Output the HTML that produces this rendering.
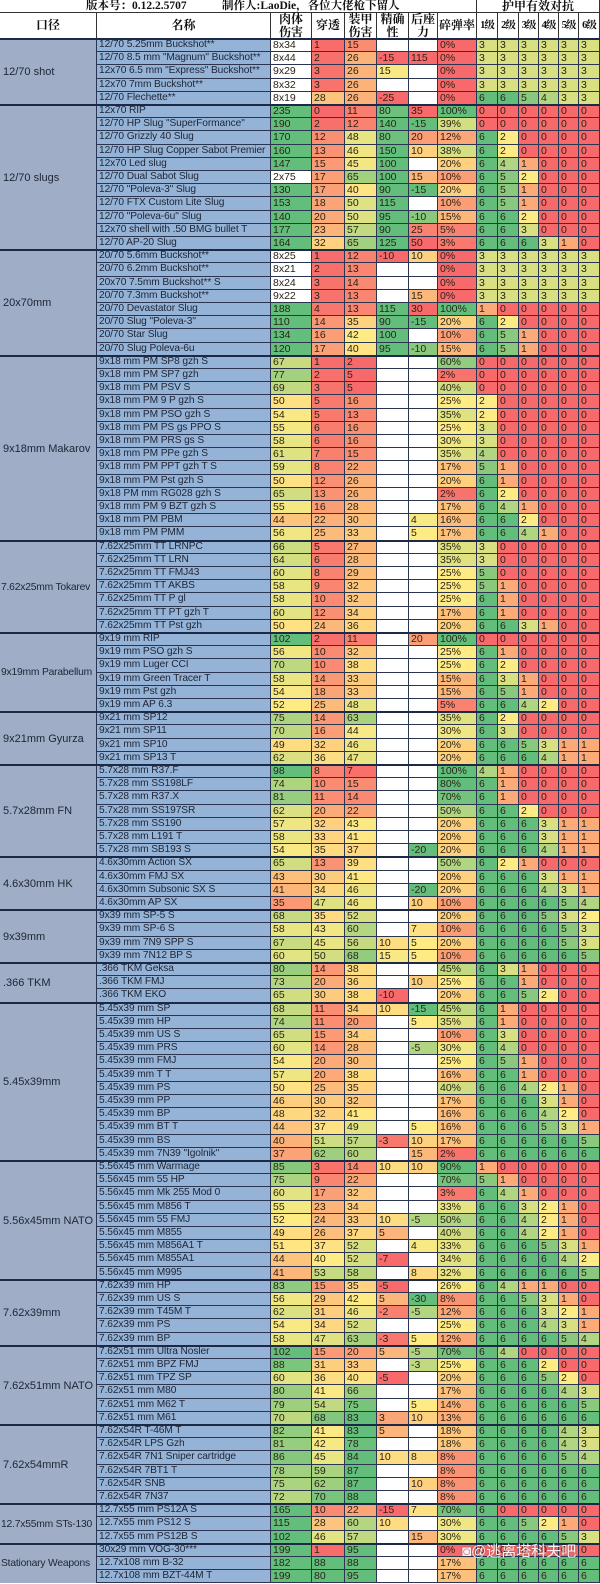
<!DOCTYPE html>
<html><head><meta charset="utf-8">
<style>
html,body{margin:0;padding:0;background:#fff;}
#t{position:relative;width:600px;height:1584px;overflow:hidden;font-family:"Liberation Sans","Noto Sans CJK SC",sans-serif;font-size:10.5px;color:#2a2418;}
.c{position:absolute;box-sizing:border-box;border-right:1px solid #2b3550;border-bottom:1px solid #2b3550;white-space:nowrap;overflow:hidden;line-height:12px;padding-left:2px;}
.h{position:absolute;box-sizing:border-box;border-right:1px solid #333;border-bottom:1px solid #333;font-family:"Liberation Serif","Noto Serif CJK SC",serif;font-weight:bold;font-size:12px;display:flex;align-items:center;justify-content:center;text-align:center;line-height:13px;background:#fff;color:#111;}
.g{position:absolute;box-sizing:border-box;background:#9fadc6;border-right:1px solid #2b3550;display:flex;align-items:center;padding-left:3px;font-size:11px;color:#1e2535;white-space:nowrap;overflow:hidden;}
.sep{position:absolute;left:0;width:600px;height:2px;background:#1c2a48;}
</style></head>
<body>
<div id="t">
  <div class="h" style="left:0;top:0;width:477px;height:13px;justify-content:flex-start;font-size:11.5px"><span style="position:absolute;left:86px">版本号：0.12.2.5707</span><span style="position:absolute;left:222px">制作人:LaoDie，各位大佬枪下留人</span></div>
  <div class="h" style="left:477px;top:0;width:123px;height:13px">护甲有效对抗</div>
</div>
<script>
const groups=["12/70 shot","12/70 slugs","20x70mm","9x18mm Makarov","7.62x25mm Tokarev","9x19mm Parabellum","9x21mm Gyurza","5.7x28mm FN","4.6x30mm HK","9x39mm",".366 TKM","5.45x39mm","5.56x45mm NATO","7.62x39mm","7.62x51mm NATO","7.62x54mmR","12.7x55mm STs-130","Stationary Weapons"];
const groupSizes=[5,11,8,14,7,6,4,7,4,4,3,12,9,5,6,6,3,3];
const headers=["口径","名称","肉体<br>伤害","穿透","装甲<br>伤害","精确<br>性","后座<br>力","碎弹率","1级","2级","3级","4级","5级","6级"];
const rows=[
["12/70 5.25mm Buckshot**","8x34",1,15,"","","0%",3,3,3,3,3,3],
["12/70 8.5 mm \"Magnum\" Buckshot**","8x44",2,26,-15,115,"0%",3,3,3,3,3,3],
["12x70 6.5 mm \"Express\" Buckshot**","9x29",3,26,15,"","0%",3,3,3,3,3,3],
["12x70 7mm Buckshot**","8x32",3,26,"","","0%",3,3,3,3,3,3],
["12/70 Flechette**","8x19",28,26,-25,"","0%",6,6,5,4,3,3],
["12x70 RIP",235,0,11,80,35,"100%",0,0,0,0,0,0],
["12/70 HP Slug \"SuperFormance\"",190,2,12,140,-15,"39%",0,0,0,0,0,0],
["12/70 Grizzly 40 Slug",170,12,48,80,20,"12%",6,2,0,0,0,0],
["12/70 HP Slug Copper Sabot Premier",160,13,46,150,10,"38%",6,2,0,0,0,0],
["12x70 Led slug",147,15,45,100,"","20%",6,4,1,0,0,0],
["12/70 Dual Sabot Slug","2x75",17,65,100,15,"10%",6,5,2,0,0,0],
["12/70 \"Poleva-3\" Slug",130,17,40,90,-15,"20%",6,5,1,0,0,0],
["12/70 FTX Custom Lite Slug",153,18,50,115,"","10%",6,5,1,0,0,0],
["12/70 \"Poleva-6u\" Slug",140,20,50,95,-10,"15%",6,6,2,0,0,0],
["12x70 shell with .50 BMG bullet T",177,23,57,90,25,"5%",6,6,3,0,0,0],
["12/70 AP-20 Slug",164,32,65,125,50,"3%",6,6,6,3,1,0],
["20/70 5.6mm Buckshot**","8x25",1,12,-10,10,"0%",3,3,3,3,3,3],
["20/70 6.2mm Buckshot**","8x21",2,13,"","","0%",3,3,3,3,3,3],
["20x70 7.5mm Buckshot** S","8x24",3,14,"","","0%",3,3,3,3,3,3],
["20/70 7.3mm Buckshot**","9x22",3,13,"",15,"0%",3,3,3,3,3,3],
["20/70 Devastator Slug",188,4,13,115,30,"100%",1,0,0,0,0,0],
["20/70 Slug \"Poleva-3\"",110,14,35,90,-15,"20%",6,2,0,0,0,0],
["20/70 Star Slug",134,16,42,100,"","10%",6,5,1,0,0,0],
["20/70 Slug Poleva-6u",120,17,40,95,-10,"15%",6,5,1,0,0,0],
["9x18 mm PM SP8 gzh S",67,1,2,"","","60%",0,0,0,0,0,0],
["9x18 mm PM SP7 gzh",77,2,5,"","","2%",0,0,0,0,0,0],
["9x18 mm PM PSV S",69,3,5,"","","40%",0,0,0,0,0,0],
["9x18 mm PM 9 P gzh S",50,5,16,"","","25%",2,0,0,0,0,0],
["9x18 mm PM PSO gzh S",54,5,13,"","","35%",2,0,0,0,0,0],
["9x18 mm PM PS gs PPO S",55,6,16,"","","25%",3,0,0,0,0,0],
["9x18 mm PM PRS gs S",58,6,16,"","","30%",3,0,0,0,0,0],
["9x18 mm PM PPe gzh S",61,7,15,"","","35%",4,0,0,0,0,0],
["9x18 mm PM PPT gzh T S",59,8,22,"","","17%",5,1,0,0,0,0],
["9x18 mm PM Pst gzh S",50,12,26,"","","20%",6,1,0,0,0,0],
["9x18 PM mm RG028 gzh S",65,13,26,"","","2%",6,2,0,0,0,0],
["9x18 mm PM 9 BZT gzh S",55,16,28,"","","17%",6,4,1,0,0,0],
["9x18 mm PM PBM",44,22,30,"",4,"16%",6,6,2,0,0,0],
["9x18 mm PM PMM",56,25,33,"",5,"17%",6,6,4,1,0,0],
["7.62x25mm TT LRNPC",66,5,27,"","","35%",3,0,0,0,0,0],
["7.62x25mm TT LRN",64,6,28,"","","35%",3,0,0,0,0,0],
["7.62x25mm TT FMJ43",60,8,29,"","","25%",5,0,0,0,0,0],
["7.62x25mm TT AKBS",58,9,32,"","","25%",5,1,0,0,0,0],
["7.62x25mm TT P gl",58,10,32,"","","25%",6,1,0,0,0,0],
["7.62x25mm TT PT gzh T",60,12,34,"","","17%",6,1,0,0,0,0],
["7.62x25mm TT Pst gzh",50,24,36,"","","20%",6,6,3,1,0,0],
["9x19 mm RIP",102,2,11,"",20,"100%",0,0,0,0,0,0],
["9x19 mm PSO gzh S",56,10,32,"","","25%",6,1,0,0,0,0],
["9x19 mm Luger CCI",70,10,38,"","","25%",6,2,0,0,0,0],
["9x19 mm Green Tracer T",58,14,33,"","","15%",6,3,1,0,0,0],
["9x19 mm Pst gzh",54,18,33,"","","15%",6,5,1,0,0,0],
["9x19 mm AP 6.3",52,25,48,"","","5%",6,6,4,2,0,0],
["9x21 mm SP12",75,14,63,"","","35%",6,2,0,0,0,0],
["9x21 mm SP11",70,16,44,"","","30%",6,3,0,0,0,0],
["9x21 mm SP10",49,32,46,"","","20%",6,6,5,3,1,1],
["9x21 mm SP13 T",62,36,47,"","","20%",6,6,6,4,1,1],
["5.7x28 mm R37.F",98,8,7,"","","100%",4,1,0,0,0,0],
["5.7x28 mm SS198LF",74,10,15,"","","80%",6,1,0,0,0,0],
["5.7x28 mm R37.X",81,11,14,"","","70%",6,1,0,0,0,0],
["5.7x28 mm SS197SR",62,20,22,"","","50%",6,6,2,0,0,0],
["5.7x28 mm SS190",57,32,43,"","","20%",6,6,6,3,1,1],
["5.7x28 mm L191 T",58,33,41,"","","20%",6,6,6,3,1,1],
["5.7x28 mm SB193 S",54,35,37,"",-20,"20%",6,6,6,4,1,1],
["4.6x30mm Action SX",65,13,39,"","","50%",6,2,1,0,0,0],
["4.6x30mm FMJ SX",43,30,41,"","","20%",6,6,6,3,1,1],
["4.6x30mm Subsonic SX S",41,34,46,"",-20,"20%",6,6,6,4,3,1],
["4.6x30mm AP SX",35,47,46,"",10,"10%",6,6,6,6,5,4],
["9x39 mm SP-5 S",68,35,52,"","","20%",6,6,6,5,3,2],
["9x39 mm SP-6 S",58,43,60,"",7,"10%",6,6,6,6,5,3],
["9x39 mm 7N9 SPP S",67,45,56,10,5,"20%",6,6,6,6,5,3],
["9x39 mm 7N12 BP S",60,50,68,15,5,"10%",6,6,6,6,6,5],
[".366 TKM Geksa",80,14,38,"","","45%",6,3,1,0,0,0],
[".366 TKM FMJ",73,20,36,"",10,"25%",6,6,1,0,0,0],
[".366 TKM EKO",65,30,38,-10,"","20%",6,6,5,2,0,0],
["5.45x39 mm SP",68,11,34,10,-15,"45%",6,1,0,0,0,0],
["5.45x39 mm HP",74,11,20,"",5,"35%",6,1,0,0,0,0],
["5.45x39 mm US S",65,15,34,"","","10%",6,3,0,0,0,0],
["5.45x39 mm PRS",60,14,28,"",-5,"30%",6,4,0,0,0,0],
["5.45x39 mm FMJ",54,20,30,"","","25%",6,5,1,0,0,0],
["5.45x39 mm T T",57,20,38,"","","16%",6,6,1,0,0,0],
["5.45x39 mm PS",50,25,35,"","","40%",6,6,4,2,1,0],
["5.45x39 mm PP",46,30,32,"","","17%",6,6,6,3,1,0],
["5.45x39 mm BP",48,32,41,"","","16%",6,6,6,4,2,0],
["5.45x39 mm BT T",44,37,49,"",5,"16%",6,6,6,5,3,1],
["5.45x39 mm BS",40,51,57,-3,10,"17%",6,6,6,6,6,5],
["5.45x39 mm 7N39 \"Igolnik\"",37,62,60,"",15,"2%",6,6,6,6,6,6],
["5.56x45 mm Warmage",85,3,14,10,10,"90%",1,0,0,0,0,0],
["5.56x45 mm 55 HP",75,9,22,"","","70%",5,1,0,0,0,0],
["5.56x45 mm Mk 255 Mod 0",60,17,32,"","","3%",6,4,1,0,0,0],
["5.56x45 mm M856 T",55,23,34,"","","33%",6,6,3,2,1,0],
["5.56x45 mm 55 FMJ",52,24,33,10,-5,"50%",6,6,4,2,1,0],
["5.56x45 mm M855",49,26,37,5,"","40%",6,6,4,2,1,0],
["5.56x45 mm M856A1 T",51,37,52,"",4,"33%",6,6,6,5,3,1],
["5.56x45 mm M855A1",44,40,52,-7,"","34%",6,6,6,6,4,2],
["5.56x45 mm M995",41,53,58,"",8,"32%",6,6,6,6,6,5],
["7.62x39 mm HP",83,15,35,-5,"","26%",6,4,1,1,0,0],
["7.62x39 mm US S",56,29,42,5,-30,"8%",6,6,5,3,1,0],
["7.62x39 mm T45M T",62,31,46,-2,-5,"12%",6,6,6,3,2,1],
["7.62x39 mm PS",54,34,52,"","","25%",6,6,6,4,3,1],
["7.62x39 mm BP",58,47,63,-3,5,"12%",6,6,6,6,5,4],
["7.62x51 mm Ultra Nosler",102,15,20,5,-5,"70%",6,4,0,0,0,0],
["7.62x51 mm BPZ FMJ",88,31,33,"",-3,"25%",6,6,6,2,0,0],
["7.62x51 mm TPZ SP",60,36,40,-5,"","20%",6,6,6,5,2,0],
["7.62x51 mm M80",80,41,66,"","","17%",6,6,6,6,4,3],
["7.62x51 mm M62 T",79,54,75,"",5,"14%",6,6,6,6,6,5],
["7.62x51 mm M61",70,68,83,3,10,"13%",6,6,6,6,6,6],
["7.62x54R T-46M T",82,41,83,5,"","18%",6,6,6,6,4,3],
["7.62x54R LPS Gzh",81,42,78,"","","18%",6,6,6,6,4,3],
["7.62x54R 7N1 Sniper cartridge",86,45,84,10,8,"8%",6,6,6,6,5,4],
["7.62x54R 7BT1 T",78,59,87,"","","8%",6,6,6,6,6,6],
["7.62x54R SNB",75,62,87,"",10,"8%",6,6,6,6,6,6],
["7.62x54R 7N37",72,70,88,"","","8%",6,6,6,6,6,6],
["12.7x55 mm PS12A S",165,10,22,-15,7,"70%",6,0,0,0,0,0],
["12.7x55 mm PS12 S",115,28,60,10,"","30%",6,6,5,2,1,0],
["12.7x55 mm PS12B S",102,46,57,"",15,"30%",6,6,6,6,5,3],
["30x29 mm VOG-30***",199,1,95,"","","0%",0,0,0,0,0,0],
["12.7x108 mm B-32",182,88,88,"","","17%",6,6,6,6,6,6],
["12.7x108 mm BZT-44M T",199,80,95,"","","17%",6,6,6,6,6,6]
];
const colX=[0,97,271,312,345,377,409,438,477,498,519,539,559,579,600];
const T=document.getElementById('t');
const TOP=39,RH=13.2;
const RED=[248,105,107],YEL=[255,235,132],GRN=[99,190,123];
const scales=[[25,52,95,0],[0,40,75,0],[5,42,80,0],[-5,12,85,0],[-15,5,30,1],[0,25,75,0],[0,2,6,0]];
function mix(a,b,t){return 'rgb('+a.map((v,i)=>Math.round(v+(b[i]-v)*t)).join(',')+')';}
function cl(t){return Math.max(0,Math.min(1,t));}
function ry(i){return Math.round(TOP+i*RH);}
function color(v,s){
  if(v===""||typeof v==="string"&&/x/.test(v))return "#fff";
  v=parseFloat(v);
  const lo=s[3]?GRN:RED,hi=s[3]?RED:GRN;
  if(v<=s[1])return mix(lo,YEL,cl((v-s[0])/(s[1]-s[0])));
  return mix(YEL,hi,cl((v-s[1])/(s[2]-s[1])));
}
headers.forEach((h,i)=>{
  const d=document.createElement('div');
  d.className='h';
  
  
  d.style.cssText=`left:${colX[i]}px;top:13px;width:${colX[i+1]-colX[i]}px;height:26px;`+(i>=8?'font-size:10.5px;letter-spacing:-1px;':'');
  d.innerHTML=h;
  T.appendChild(d);
});
rows.forEach((r,ri)=>{
  const y=ry(ri),hh=ry(ri+1)-y;
  r.forEach((v,ci)=>{
    const c=ci+1;
    const d=document.createElement('div');
    d.className='c';
    
    
    let bg;
    if(ci===0)bg='#95b3d7';
    else{
      const si=ci>=7?6:ci-1;
      bg=ci===6?color(v===""?"":parseFloat(v),scales[5]):color(v,scales[si]);
    }
    d.style.cssText=`left:${colX[c]}px;top:${y}px;width:${colX[c+1]-colX[c]}px;height:${hh}px;background:${bg};`+(ci===0?'color:#1e2535;font-size:10.2px;letter-spacing:-0.1px;':'');
    d.textContent=v;
    T.appendChild(d);
  });
});
let acc=0;
groups.forEach((g,gi)=>{
  const y=ry(acc),h=ry(acc+groupSizes[gi])-y;
  const d=document.createElement('div');
  d.className='g';
  
  
  d.style.cssText=`left:0;top:${y}px;width:97px;height:${h}px;`+(g.length>16?'font-size:10.3px;padding-left:1px;letter-spacing:-0.2px;':'');
  d.textContent=g;
  T.appendChild(d);
  const s=document.createElement('div');
  s.className='sep';
  
  
  s.style.top=(y-1)+'px';
  T.appendChild(s);
  acc+=groupSizes[gi];
});
const w=document.createElement('div');


w.style.cssText='position:absolute;left:462px;top:1540px;color:rgba(255,255,255,0.92);font-size:15px;font-family:"Liberation Sans","Noto Sans CJK SC",sans-serif;text-shadow:0 0 2px rgba(0,0,0,0.35);';
w.textContent='◙@逃离塔科夫吧';
T.appendChild(w);
</script>
</body></html>
